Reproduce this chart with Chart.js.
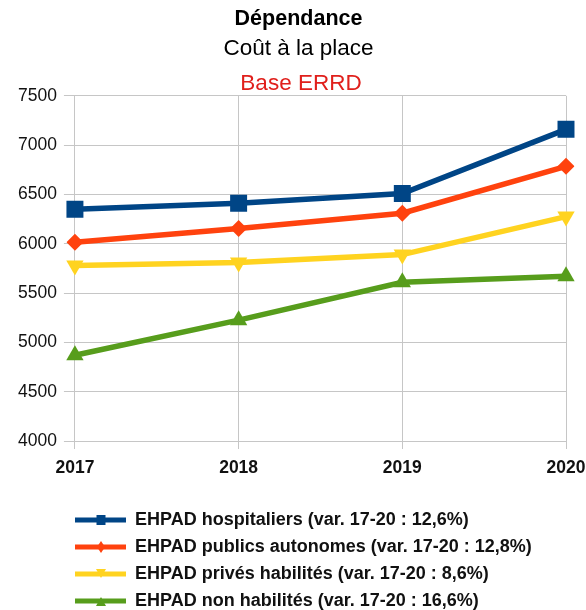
<!DOCTYPE html>
<html>
<head>
<meta charset="utf-8">
<script src="https://cdn.jsdelivr.net/npm/chart.js@4/dist/chart.umd.min.js"></script>
<style>
  body { margin: 0; background: #fff; }
  #wrap { width: 586px; height: 610px; }
</style>
</head>
<body>
<div id="wrap"><canvas id="lineChart"></canvas></div>
<script>
const years = ['2017', '2018', '2019', '2020'];
const hospitaliers = [6350, 6410, 6510, 7160];
const publicsAutonomes = [6015, 6155, 6310, 6785];
const privesHabilites = [5780, 5810, 5890, 6275];
const nonHabilites = [4870, 5225, 5610, 5670];
const seriesNames = [
    'EHPAD hospitaliers (var. 17-20 : 12,6%)',
    'EHPAD publics autonomes (var. 17-20 : 12,8%)',
    'EHPAD privés habilités (var. 17-20 : 8,6%)',
    'EHPAD non habilités (var. 17-20 : 16,6%)'
];
const yMin = 4000;
const yMax = 7500;
const yStep = 500;

const colors = ['#004586', '#ff420e', '#ffd320', '#579d1c'];
const FONT = '"Liberation Sans", Arial, sans-serif';

// small line+marker swatch used as legend point style
const legendIcon = (color, kind) => {
    const c = document.createElement('canvas');
    c.width = 106;
    c.height = 14;
    const ctx = c.getContext('2d');
    ctx.fillStyle = color;
    ctx.fillRect(55, 4.5, 51, 5);
    const cx = 81, cy = 7;
    ctx.beginPath();
    if (kind === 'square') {
        ctx.rect(cx - 4.5, cy - 5, 9, 10);
    } else if (kind === 'diamond') {
        ctx.moveTo(cx, cy - 6); ctx.lineTo(cx + 4, cy); ctx.lineTo(cx, cy + 6); ctx.lineTo(cx - 4, cy);
    } else if (kind === 'down') {
        ctx.moveTo(cx - 5, cy - 5); ctx.lineTo(cx + 5, cy - 5); ctx.lineTo(cx, cy + 4);
    } else {
        ctx.moveTo(cx - 5, cy + 5); ctx.lineTo(cx + 5, cy + 5); ctx.lineTo(cx, cy - 4);
    }
    ctx.closePath();
    ctx.fill();
    return c;
};
const icons = [
    legendIcon(colors[0], 'square'),
    legendIcon(colors[1], 'diamond'),
    legendIcon(colors[2], 'down'),
    legendIcon(colors[3], 'up')
];

const redTitle = {
    id: 'redTitle',
    afterDraw(chart) {
        const ctx = chart.ctx;
        ctx.save();
        ctx.font = '22.5px ' + FONT;
        ctx.fillStyle = '#e0201c';
        ctx.textAlign = 'center';
        ctx.textBaseline = 'middle';
        ctx.fillText('Base ERRD', (16 + chart.width) / 2, chart.chartArea.top - 12);
        ctx.restore();
    }
};

const gridColor = '#c6c6c6';

new Chart(document.querySelector('#lineChart'), {
    type: 'line',
    data: {
        labels: years,
        datasets: [
            { label: seriesNames[0], data: hospitaliers, pointStyle: 'rect', pointRadius: 12, pointHoverRadius: 12 },
            { label: seriesNames[1], data: publicsAutonomes, pointStyle: 'rectRot', pointRadius: 8.5, pointHoverRadius: 8.5 },
            { label: seriesNames[2], data: privesHabilites, pointStyle: 'triangle', pointRotation: 180, pointRadius: 10, pointHoverRadius: 10 },
            { label: seriesNames[3], data: nonHabilites, pointStyle: 'triangle', pointRadius: 10, pointHoverRadius: 10 }
        ].map((ds, i) => ({
            ...ds,
            borderColor: colors[i],
            backgroundColor: colors[i],
            pointBackgroundColor: colors[i],
            pointBorderColor: colors[i],
            pointBorderWidth: 0,
            borderWidth: 5.5,
            tension: 0
        }))
    },
    options: {
        responsive: true,
        maintainAspectRatio: false,
        animation: false,
        layout: {
            padding: { left: 11, right: 0, top: 0, bottom: -10 }
        },
        scales: {
            x: {
                grid: { color: gridColor, tickLength: 8 },
                border: { color: gridColor },
                ticks: {
                    color: '#111',
                    padding: 9,
                    font: { family: FONT, size: 17.5, weight: 'bold' }
                },
                afterFit: (scale) => {
                    scale.paddingRight = 20;
                    scale.height += 14;
                }
            },
            y: {
                min: yMin,
                max: yMax,
                grid: { color: gridColor, tickLength: 11 },
                border: { color: gridColor },
                ticks: {
                    stepSize: yStep,
                    color: '#111',
                    padding: 7,
                    font: { family: FONT, size: 17.5 },
                    callback: (v) => String(v)
                }
            }
        },
        plugins: {
            title: {
                display: true,
                text: 'Dépendance',
                color: '#000',
                font: { family: FONT, size: 21.5, weight: 'bold' },
                padding: { top: 6, bottom: 1 }
            },
            subtitle: {
                display: true,
                text: 'Coût à la place',
                color: '#000',
                font: { family: FONT, size: 22.5 },
                padding: { top: 2, bottom: 34 }
            },
            legend: {
                position: 'bottom',
                align: 'start',
                labels: {
                    usePointStyle: true,
                    pointStyleWidth: 106,
                    padding: 9,
                    color: '#111',
                    font: { family: FONT, size: 18, weight: 'bold' },
                    generateLabels(chart) {
                        const items = Chart.defaults.plugins.legend.labels.generateLabels(chart);
                        items.forEach((it, i) => {
                            it.pointStyle = icons[i];
                            it.rotation = 0;
                        });
                        return items;
                    }
                }
            },
            tooltip: { enabled: false }
        }
    },
    plugins: [redTitle]
});
</script>
</body>
</html>
